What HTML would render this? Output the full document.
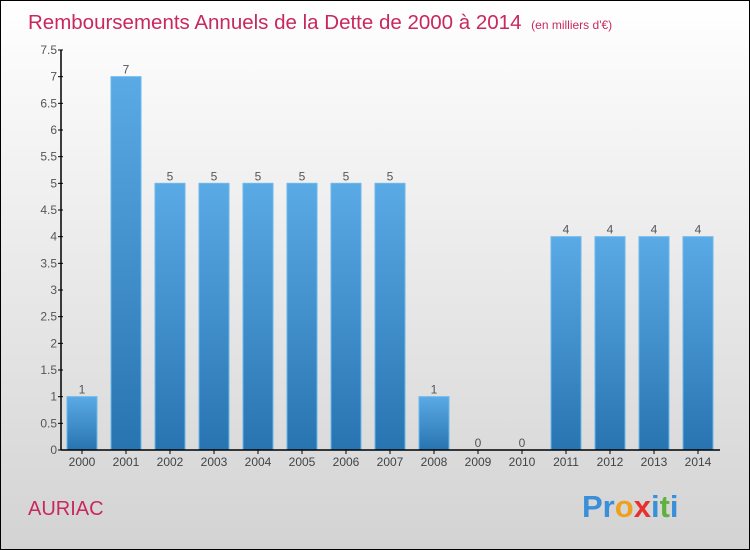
<!DOCTYPE html>
<html><head><meta charset="utf-8"><style>
body{margin:0;width:750px;height:550px;overflow:hidden}
svg{display:block;font-family:"Liberation Sans",sans-serif}
</style></head><body>
<svg width="750" height="550">
<defs>
<linearGradient id="bg" x1="0" y1="0" x2="0" y2="1"><stop offset="0" stop-color="#ffffff"/><stop offset="1" stop-color="#d3d3d3"/></linearGradient>
<linearGradient id="bar" x1="0" y1="0" x2="0" y2="1"><stop offset="0" stop-color="#5aaae6"/><stop offset="1" stop-color="#2874b0"/></linearGradient>
</defs>
<rect x="0.5" y="0.5" width="749" height="549" fill="url(#bg)" stroke="#000"/>
<text x="28" y="29" font-size="20.5" fill="#c8285e">Remboursements Annuels de la Dette de 2000 à 2014 <tspan font-size="12" dx="4">(en milliers d'€)</tspan></text>
<g id="plot"></g>
<text x="28" y="515" font-size="20" fill="#c8285e">AURIAC</text>
<text x="582" y="517" font-size="31" font-weight="bold"><tspan fill="#3a8fd8">Pr</tspan><tspan fill="#f0a020">o</tspan><tspan fill="#e83030">x</tspan><tspan fill="#3a8fd8">i</tspan><tspan fill="#60b040">t</tspan><tspan fill="#3a8fd8">i</tspan></text>
</svg>
<script>
const categories=["2000","2001","2002","2003","2004","2005","2006","2007","2008","2009","2010","2011","2012","2013","2014"];
const values=[1,7,5,5,5,5,5,5,1,0,0,4,4,4,4];
const ticks=[0,0.5,1,1.5,2,2.5,3,3.5,4,4.5,5,5.5,6,6.5,7,7.5];
const NS="http://www.w3.org/2000/svg";
const g=document.getElementById('plot');
const x0=60,band=44,y0=450,yTop=50,yMax=7.5;
const y=v=>y0-(v/yMax)*(y0-yTop);
const x=i=>x0+i*band;
function mk(t,a,txt){const e=document.createElementNS(NS,t);for(const k in a)e.setAttribute(k,a[k]);if(txt!==undefined)e.textContent=txt;g.appendChild(e);return e;}
values.forEach((v,i)=>{
 if(v>0){const r=mk('rect',{x:x(i)+7,y:y(v),width:30,height:y0-y(v),fill:'url(#bar)',stroke:'#6ab8ee','stroke-width':1});
 
 }
 const t=mk('text',{x:x(i)+22,y:y(v)-3,'font-size':12,fill:'#555','text-anchor':'middle'},String(v));
 
 
 const c=mk('text',{x:x(i)+22,y:466,'font-size':12,fill:'#444','text-anchor':'middle'},categories[i]);
 
 
 const tk=mk('line',{x1:x(i)+22,x2:x(i)+22,y1:450,y2:454,stroke:'#000'});
 
 
});
ticks.forEach(t=>{
 const l=mk('line',{x1:58,x2:63,y1:y(t),y2:y(t),stroke:'#000'});
 
 
 const tx=mk('text',{x:57,y:y(t)+4,'font-size':12,fill:'#555','text-anchor':'end'},String(t));
 
 
});
const ya=mk('line',{x1:61,x2:61,y1:yTop,y2:y0,stroke:'#000','stroke-width':1.5});


const xa=mk('line',{x1:61,x2:720,y1:y0,y2:y0,stroke:'#000','stroke-width':1.5});


</script>
</body></html>
